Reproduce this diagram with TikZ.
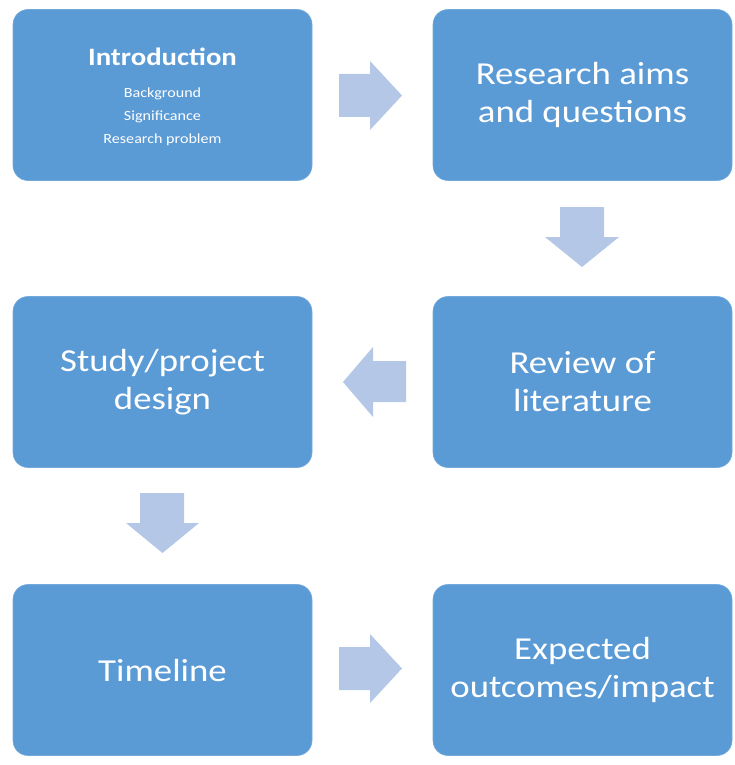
\documentclass[tikz,border=0pt]{standalone}
\usepackage{fontspec}
\setmainfont{Carlito}[FakeStretch=1.15]
\definecolor{boxblue}{HTML}{5B9BD5}
\definecolor{arrowblue}{HTML}{B4C7E7}
\begin{document}
\begin{tikzpicture}[x=1pt,y=-1pt,
  stagebox/.style={fill=boxblue, draw=boxblue!85!white, line width=0.6pt, rounded corners=15pt,
    minimum width=299pt, minimum height=171pt, inner sep=0pt, text=white, align=center,
    font=\fontsize{32}{38}\selectfont},
  blockarrow/.style={fill=arrowblue, draw=none}]
\useasboundingbox (0,0) rectangle (735,765);
\node[stagebox] (intro) at (162.5,95) {};
\node[text=white, align=center, font=\fontsize{25}{28}\selectfont\bfseries] (introtitle) at (162.5,57) {Introduction};
\node[text=white, align=center, font=\fontsize{14}{23}\selectfont, anchor=north] (introsub) at (162.5,84) {Background\\Significance\\Research problem};
\node[stagebox] (aims) at (582.5,95) {Research aims\\and questions};
\node[stagebox] (design) at (162.5,382) {Study/project\\design};
\node[stagebox] (review) at (582.5,382) {Review of\\literature};
\node[stagebox] (timeline) at (162.5,670) {Timeline};
\node[stagebox] (outcomes) at (582.5,670) {Expected\\outcomes/impact};
% block arrows
\fill[blockarrow] (339,74) -- (370,74) -- (370,61) -- (402,95.5) -- (370,130) -- (370,117) -- (339,117) -- cycle;
\fill[blockarrow] (560,207) -- (604,207) -- (604,237) -- (619,237) -- (582,267) -- (545,237) -- (560,237) -- cycle;
\fill[blockarrow] (406,361) -- (373,361) -- (373,347) -- (343,382) -- (373,417) -- (373,402) -- (406,402) -- cycle;
\fill[blockarrow] (140,493) -- (184,493) -- (184,523) -- (199,523) -- (162.5,553) -- (126,523) -- (140,523) -- cycle;
\fill[blockarrow] (339,647) -- (370,647) -- (370,634) -- (402,668.5) -- (370,703) -- (370,690) -- (339,690) -- cycle;
\end{tikzpicture}
\end{document}
